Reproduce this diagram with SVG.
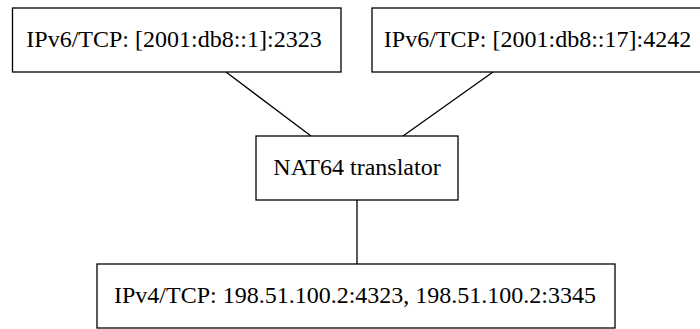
<svg xmlns="http://www.w3.org/2000/svg" width="700" height="329" viewBox="0 0 700 329">
<style>
.box{fill:#fff;stroke:#000;stroke-width:1.3}
.lbl{font-family:"Liberation Serif","Times New Roman",serif;font-size:24px;fill:#000;text-anchor:middle}
.edge{stroke:#000;stroke-width:1.3;fill:none}
</style>
<rect width="700" height="329" fill="#fff"/>
<g id="edges">
<line class="edge" x1="226" y1="72" x2="311" y2="136"/>
<line class="edge" x1="493" y1="72" x2="403" y2="136"/>
<line class="edge" x1="357" y1="200" x2="357" y2="264"/>
</g>
<g id="n1"><rect class="box" x="12.5" y="8" width="328.5" height="64"/><text class="lbl" x="174" y="47">IPv6/TCP: [2001:db8::1]:2323</text></g>
<g id="n2"><rect class="box" x="372" y="8" width="331" height="64"/><text class="lbl" x="537.5" y="47">IPv6/TCP: [2001:db8::17]:4242</text></g>
<g id="n3"><rect class="box" x="256" y="136" width="202" height="64"/><text class="lbl" x="357" y="175">NAT64 translator</text></g>
<g id="n4"><rect class="box" x="97" y="264" width="518" height="64"/><text class="lbl" x="355" y="303">IPv4/TCP: 198.51.100.2:4323, 198.51.100.2:3345</text></g>
</svg>
